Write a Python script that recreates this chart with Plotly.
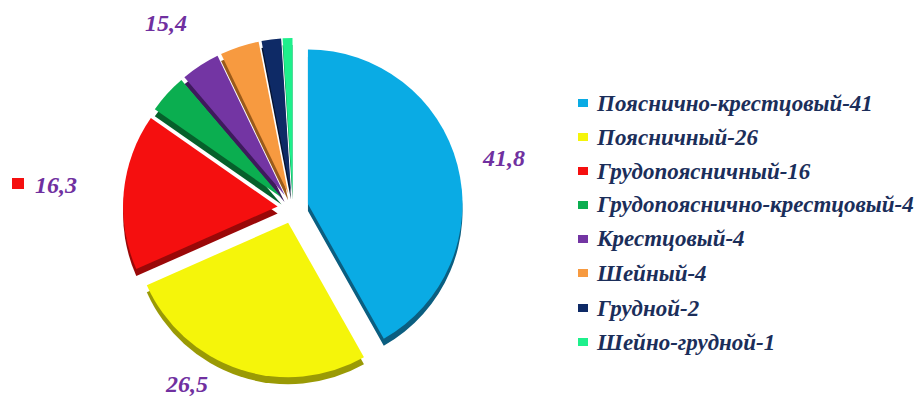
import plotly.graph_objects as go

categories = ["Пояснично-крестцовый", "Поясничный", "Грудопоясничный",
              "Грудопояснично-крестцовый", "Крестцовый", "Шейный", "Грудной", "Шейно-грудной"]
counts = [41, 26, 16, 4, 4, 4, 2, 1]
colors = ["#0AABE4", "#F5F50A", "#F50F0F", "#0BAE50", "#7335A3", "#F79A40", "#0E2A66", "#1EF08C"]
shade_colors = ["#0B5E80", "#9A9A05", "#9A0808", "#06602B", "#3E1A5C", "#9A5A1A", "#06122E", "#0E8A4E"]
value_labels = ["41,8", "26,5", "16,3", "15,4"]
value_label_pos = [(504, 158), (186, 384), (56, 185), (166, 23)]

W, H = 920, 396
cx, cy, half = 293, 208, 170
pull = [0.1] * len(counts)

def dom(dy=0):
    return dict(x=[(cx - half) / W, (cx + half) / W],
                y=[1 - (cy + dy + half) / H, 1 - (cy + dy - half) / H])

fig = go.Figure()
fig.add_trace(go.Pie(labels=categories, values=counts, sort=False, direction="clockwise",
                     rotation=0, pull=pull, textinfo="none", hoverinfo="skip",
                     marker=dict(colors=shade_colors, line=dict(width=0)),
                     domain=dom(7), showlegend=False))
fig.add_trace(go.Pie(labels=categories, values=counts, sort=False, direction="clockwise",
                     rotation=0, pull=pull, textinfo="none",
                     marker=dict(colors=colors, line=dict(width=0)),
                     domain=dom(0), showlegend=False))

label_font = dict(family="Liberation Serif", size=24, color="#7030A0", weight="bold", style="italic")
annotations = []
for txt, (x, y) in zip(value_labels, value_label_pos):
    annotations.append(dict(text=txt, x=x / W, y=1 - y / H, xref="paper", yref="paper",
                            xanchor="center", yanchor="middle", showarrow=False, font=label_font))

legend_font = dict(family="Liberation Serif", size=23, color="#1B2E5A", weight="bold", style="italic")
shapes = []
row_y = [103, 137, 171, 205, 239, 273, 308, 342]
for cat, n, col, y in zip(categories, counts, colors, row_y):
    annotations.append(dict(text=f"{cat}-{n}", x=594 / W, y=1 - y / H, xref="paper", yref="paper",
                            xanchor="left", yanchor="middle", showarrow=False, font=legend_font))
    shapes.append(dict(type="rect", xref="paper", yref="paper", x0=578 / W, x1=588 / W,
                       y0=1 - (y + 4) / H, y1=1 - (y - 4) / H, fillcolor=col, line=dict(width=0)))
# red marker next to 16,3
shapes.append(dict(type="rect", xref="paper", yref="paper", x0=12 / W, x1=24 / W,
                   y0=1 - 189 / H, y1=1 - 178 / H, fillcolor=colors[2], line=dict(width=0)))

fig.update_layout(width=W, height=H, margin=dict(l=0, r=0, t=0, b=0),
                  paper_bgcolor="white", plot_bgcolor="white", showlegend=False,
                  annotations=annotations, shapes=shapes)
fig.write_html("out.html")
